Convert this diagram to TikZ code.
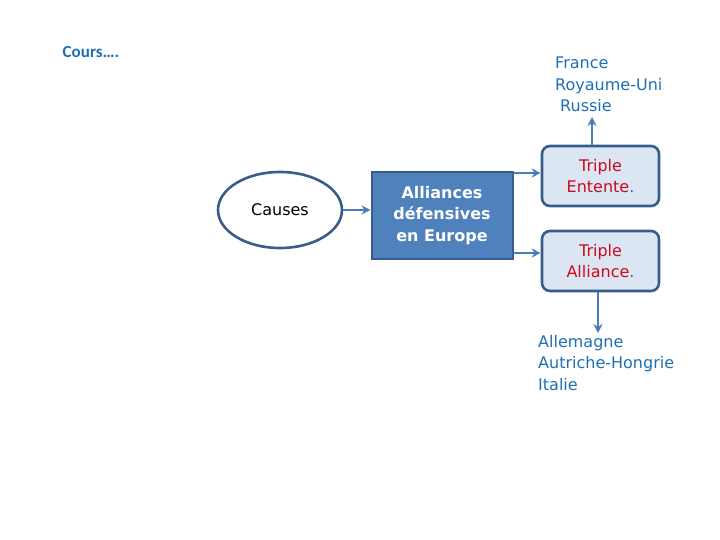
\documentclass[tikz,border=0pt]{standalone}
\usepackage{fontspec}
\setmainfont{DejaVu Sans}
\newfontfamily\calib{Carlito}
\usepackage{tikz}
\usetikzlibrary{arrows.meta,positioning,shapes.geometric,calc}
\definecolor{rim}     {HTML}{385D8A}
\definecolor{boxfill} {HTML}{4F81BD}
\definecolor{palebox} {HTML}{DCE6F2}
\definecolor{linkblue}{HTML}{4A7EBB}
\definecolor{textblue}{HTML}{1F6FB4}
\definecolor{redtext} {HTML}{CC0A1E}
\tikzset{
  causebox/.style ={ellipse, draw=rim, fill=white, line width=2.6pt,
                    minimum width=124pt, minimum height=76pt,
                    font=\fontsize{16}{21}\selectfont},
  mainbox/.style  ={draw=rim, fill=boxfill, line width=2pt,
                    minimum width=141pt, minimum height=86pt, align=center,
                    text=white, font=\fontsize{16}{21.5}\selectfont\bfseries},
  pactbox/.style  ={draw=rim, fill=palebox, line width=2.6pt, rounded corners=8pt,
                    minimum width=117pt, minimum height=60pt, align=center,
                    text=redtext, font=\fontsize{16}{21.5}\selectfont},
  listtext/.style ={align=left, text=textblue, inner sep=0pt,
                    font=\fontsize{16}{21.5}\selectfont},
  linkarr/.style  ={-{Stealth[length=9pt,width=9pt]}, line width=2.6pt, color=linkblue},
}
\begin{document}
\begin{tikzpicture}[x=1pt,y=-1pt]
    \useasboundingbox (0,0) rectangle (720,540);
    \node[text=textblue,font=\calib\fontsize{17}{20}\selectfont\bfseries] (cours) at (91,52) {Cours….};
    \node[causebox] (causes) at (280,210) {Causes};
    \node[mainbox] (allis) at (442,215.5) {Alliances\\défensives\\en Europe};
    \node[pactbox] (entente) at (600.5,176) {Triple\\Entente{\color{textblue}.}};
    \node[pactbox] (alliance) at (600.5,261) {Triple\\Alliance{\color{textblue}.}};
    \node[listtext,anchor=north west] (allies) at (555,57)
      {France\\Royaume-Uni\\\hspace{5pt}Russie};
    \node[listtext,anchor=north west] (central) at (538,335)
      {Allemagne\\Autriche-Hongrie\\Italie};
    % free ends of the connectors
    \coordinate (topout) at (513,173);
    \coordinate (botout) at (513,253);
    \coordinate (entup) at (592,117);
    \coordinate (alldown) at (598,333);
    \draw[linkarr] (causes.east) -- (causes.east -| allis.west);
    \draw[linkarr] (topout) -- (topout -| entente.west);
    \draw[linkarr] (botout) -- (botout -| alliance.west);
    \draw[linkarr] (entup |- entente.north) -- (entup);
    \draw[linkarr] (alldown |- alliance.south) -- (alldown);
  \end{tikzpicture}
\end{document}
